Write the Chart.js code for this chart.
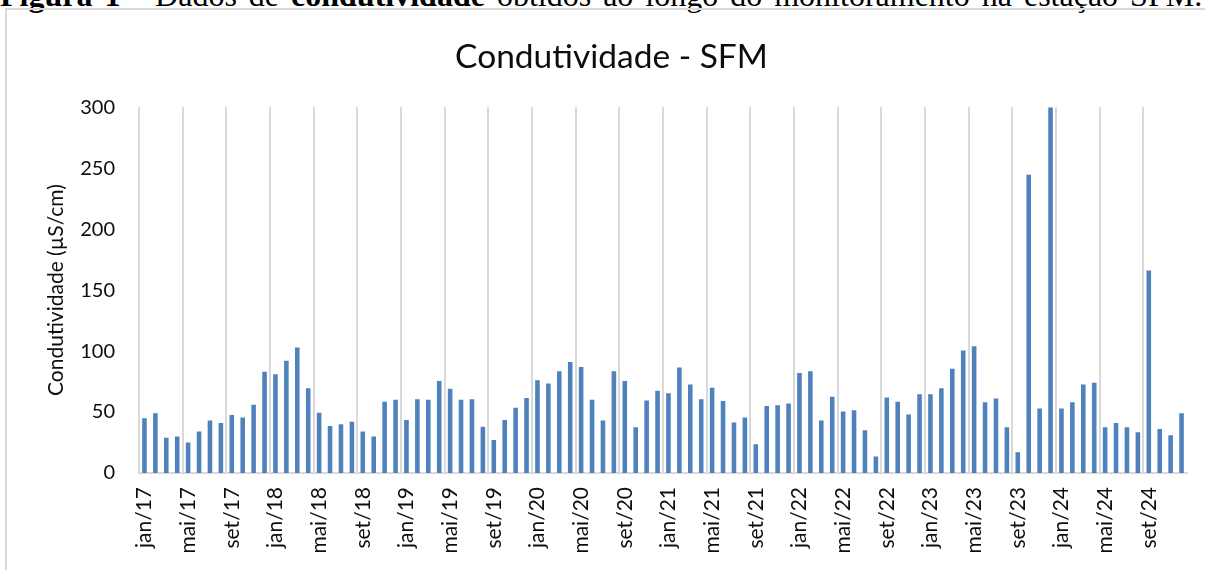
<!DOCTYPE html>
<html lang="pt-BR">
<head>
<meta charset="UTF-8">
<title>Condutividade - SFM</title>
<script src="https://cdn.jsdelivr.net/npm/chart.js@4.4.3/dist/chart.umd.min.js"></script>
<style>
  html, body { margin: 0; padding: 0; background: #fff; width: 1205px; height: 570px; overflow: hidden; }
  #caption { position: absolute; left: 0; top: -23px; font-family: "Liberation Serif", serif; font-size: 32px; line-height: normal; word-spacing: 4px; white-space: nowrap; color: #000; }
  #frame { position: absolute; left: 5px; top: 8px; width: 1230px; height: 620px; border: 2px solid #d9d9d9; box-sizing: border-box; }
  #chart { position: absolute; left: 0; top: 0; }
</style>
</head>
<body>
<div id="caption"><b>Figura 1 -</b> Dados de <b>condutividade</b> obtidos ao longo do monitoramento na estação SFM.</div>
<div id="frame"></div>
<canvas id="chart" width="1205" height="570"></canvas>
<script>
    // meses e anos do monitoramento (jan/17 a dez/24)
    const meses = ['jan', 'fev', 'mar', 'abr', 'mai', 'jun', 'jul', 'ago', 'set', 'out', 'nov', 'dez'];
    const anos = ['17', '18', '19', '20', '21', '22', '23', '24'];
    const categorias = [];
    anos.forEach(a => meses.forEach(m => categorias.push(m + '/' + a)));

    // condutividade (µS/cm), um valor por mês
    const cond2017 = [45, 49, 29, 30, 25, 34, 43, 41, 47.5, 45.5, 56, 83];
    const cond2018 = [81, 92, 103, 69.5, 49.5, 38.5, 40, 42, 34, 30, 58.5, 60];
    const cond2019 = [43.5, 60.5, 60, 75.5, 69, 60, 60.5, 38, 27, 43.5, 53.5, 61.5];
    const cond2020 = [76, 73.5, 83.5, 91, 87, 60, 43, 83.5, 75.5, 37.5, 59.5, 67.5];
    const cond2021 = [65.5, 86.5, 72.5, 60.5, 70, 59, 41.5, 45.5, 23.5, 55, 55.5, 57];
    const cond2022 = [82, 83.5, 43, 62.5, 50.5, 51.5, 35, 13.5, 62, 58.5, 48, 64.5];
    const cond2023 = [64.5, 69.5, 85.5, 100.5, 104, 58, 61, 37.5, 17, 244.5, 53, 300];
    const cond2024 = [53, 58, 72.5, 74, 37.5, 41, 37.5, 33.5, 166, 36, 31, 49];
    const valores = [].concat(cond2017, cond2018, cond2019, cond2020, cond2021, cond2022, cond2023, cond2024);

    const yTicks = [0, 50, 100, 150, 200, 250, 300];
    const passoRotulo = 4; // um rótulo a cada 4 meses

    const cinza = '#d9d9d9';
    const texto = '#0d0d0d';

    var ctx = document.getElementById('chart').getContext('2d');
    var myChart = new Chart(ctx, {
        type: 'bar',
        data: {
            labels: categorias,
            datasets: [{
                label: 'Condutividade',
                data: valores,
                backgroundColor: '#4f81bd',
                barPercentage: 0.42,
                categoryPercentage: 1.0,
            }]
        },
        options: {
            animation: false,
            responsive: false,
            layout: {
                padding: { left: 36, right: 18, top: 0, bottom: 0 }
            },
            plugins: {
                legend: { display: false },
                tooltip: { enabled: false },
                title: {
                    display: true,
                    text: 'Condutividade - SFM',
                    color: '#0d0d0d',
                    font: { family: 'Lato', size: 33.5, weight: 'normal' },
                    padding: { top: 37, bottom: 30 }
                }
            },
            scales: {
                x: {
                    offset: true,
                    grid: {
                        offset: true,
                        drawTicks: false,
                        lineWidth: 2,
                        color: (c) => (c.index % passoRotulo === 0 ? cinza : 'rgba(0,0,0,0)')
                    },
                    border: { color: cinza, width: 2 },
                    ticks: {
                        autoSkip: false,
                        minRotation: 90,
                        maxRotation: 90,
                        padding: 14,
                        color: texto,
                        font: { family: 'Lato', size: 21 },
                        callback: (v, i) => (i % passoRotulo === 0 ? categorias[i] : '')
                    },
                    afterFit: (s) => {
                        s.height = 97;
                        s.paddingLeft = 0;
                        s.paddingRight = 0;
                    }
                },
                y: {
                    min: 0,
                    max: 300,
                    grid: { display: false, drawTicks: false },
                    border: { display: false },
                    afterBuildTicks: (s) => { s.ticks = yTicks.map(v => ({ value: v })); },
                    ticks: {
                        padding: 24,
                        color: texto,
                        font: { family: 'Lato', size: 20 }
                    },
                    title: {
                        display: true,
                        text: 'Condutividade (µS/cm)',
                        color: texto,
                        font: { family: 'Lato', size: 21 },
                        padding: { top: 8, bottom: 0 }
                    },
                    afterFit: (s) => {
                        s.width = 103;
                        s.paddingTop = 0;
                        s.paddingBottom = 0;
                    }
                }
            }
        }
    });
</script>
</body>
</html>
